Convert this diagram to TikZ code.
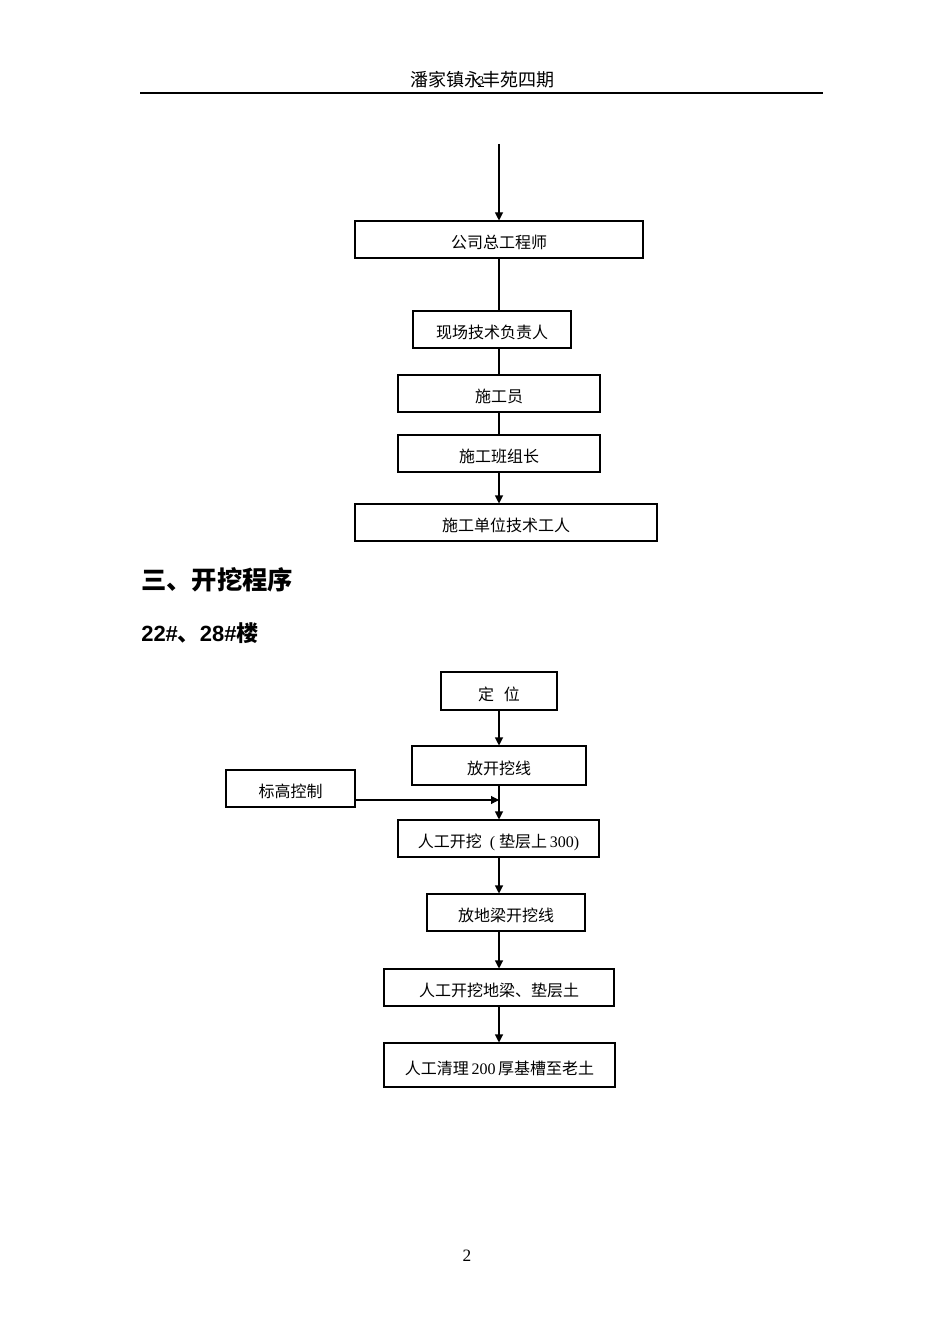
\documentclass[tikz,border=0pt]{standalone}
\usepackage{fontspec}
\setmainfont{Liberation Serif}
\setsansfont{Liberation Sans}
\newfontfamily\cjk{Noto Sans CJK SC}
\usetikzlibrary{arrows.meta}

\tikzset{
  stepbox/.style={draw, line width=0.8pt, rectangle, inner sep=0pt, text height=15pt, text depth=1pt, font=\fontsize{12}{14}\selectfont},
  flow/.style={line width=0.8pt, -{Triangle[length=6pt,width=6pt]}},
  link/.style={line width=0.8pt}
}

\begin{document}
\begin{tikzpicture}[x=0.75pt,y=0.75pt,yscale=-1,xscale=1]
\useasboundingbox (0,0) rectangle (950,1344);

% Header
\node (hdr) at (482,80) [font=\fontsize{13.5}{15}\selectfont] {\cjk 潘家镇永丰苑四期};
\node (hnum) at (481,82) [font=\fontsize{9}{10}\selectfont, inner sep=0pt] {\underline{3}};
\coordinate (hl) at (140,93);
\coordinate (hr) at (823,93);
\draw [line width=0.9pt] (hl) -- (hr);

%Shape: Rectangle -- upper chart
\node (eng) at (499,239.5) [stepbox, minimum width=216pt, minimum height=27.75pt] {\cjk 公司总工程师};
\node (site) at (492,329.5) [stepbox, minimum width=118.5pt, minimum height=27.75pt] {\cjk 现场技术负责人};
\node (crew) at (499,393.5) [stepbox, minimum width=151.5pt, minimum height=27.75pt] {\cjk 施工员};
\node (lead) at (499,453.5) [stepbox, minimum width=151.5pt, minimum height=27.75pt] {\cjk 施工班组长};
\node (work) at (506,522.5) [stepbox, minimum width=226.5pt, minimum height=27.75pt] {\cjk 施工单位技术工人};

%Straight Lines
\coordinate (top) at (499,144);
\draw [flow] (top) -- (eng.north);
\draw [link] (eng.south) -- (eng.south |- site.north);
\draw [link] (crew.north |- site.south) -- (crew.north);
\draw [link] (crew.south) -- (lead.north);
\draw [flow] (lead.south) -- (lead.south |- work.north);

% Text Node
\node (sec) at (141,580) [anchor=west, inner sep=0pt, font=\fontsize{19}{21}\selectfont] {\cjk\bfseries 三、开挖程序};
\node (bld) at (141,633) [anchor=west, inner sep=0pt, font=\fontsize{16.5}{19}\sffamily\bfseries] {22\#{\cjk 、}28\#{\cjk 楼}};

%Shape: Rectangle -- lower chart
\node (pos) at (499,691) [stepbox, minimum width=87pt, minimum height=28.5pt] {\cjk 定\hspace{0.6em}位};
\node (line) at (499,765.5) [stepbox, minimum width=130.5pt, minimum height=29.25pt] {\cjk 放开挖线};
\node (lvl) at (290.5,788.5) [stepbox, minimum width=96.75pt, minimum height=27.75pt] {\cjk 标高控制};
\node (dig) at (498.5,838.5) [stepbox, minimum width=150.75pt, minimum height=27.75pt] {{\cjk 人工开挖}\ \ ( {\cjk 垫层上}\,300)};
\node (beam) at (506,912.5) [stepbox, minimum width=118.5pt, minimum height=27.75pt] {\cjk 放地梁开挖线};
\node (soil) at (499,987.5) [stepbox, minimum width=172.5pt, minimum height=27.75pt] {\cjk 人工开挖地梁、垫层土};
\node (clean) at (499.5,1065) [stepbox, minimum width=173.25pt, minimum height=33pt] {{\cjk 人工清理}\,200\,{\cjk 厚基槽至老土}};

%Straight Lines
\coordinate (join) at (499,800);
\draw [flow] (pos.south) -- (line.north);
\draw [flow] (line.south) -- (line.south |- dig.north);
\draw [flow] (lvl.east |- join) -- (join);
\draw [flow] (dig.south -| join) -- (join |- beam.north);
\draw [flow] (soil.north |- beam.south) -- (soil.north);
\draw [flow] (soil.south) -- (soil.south |- clean.north);

% Page number
\node (pnum) at (467,1256) [font=\fontsize{13}{15}\selectfont] {2};

\end{tikzpicture}
\end{document}
